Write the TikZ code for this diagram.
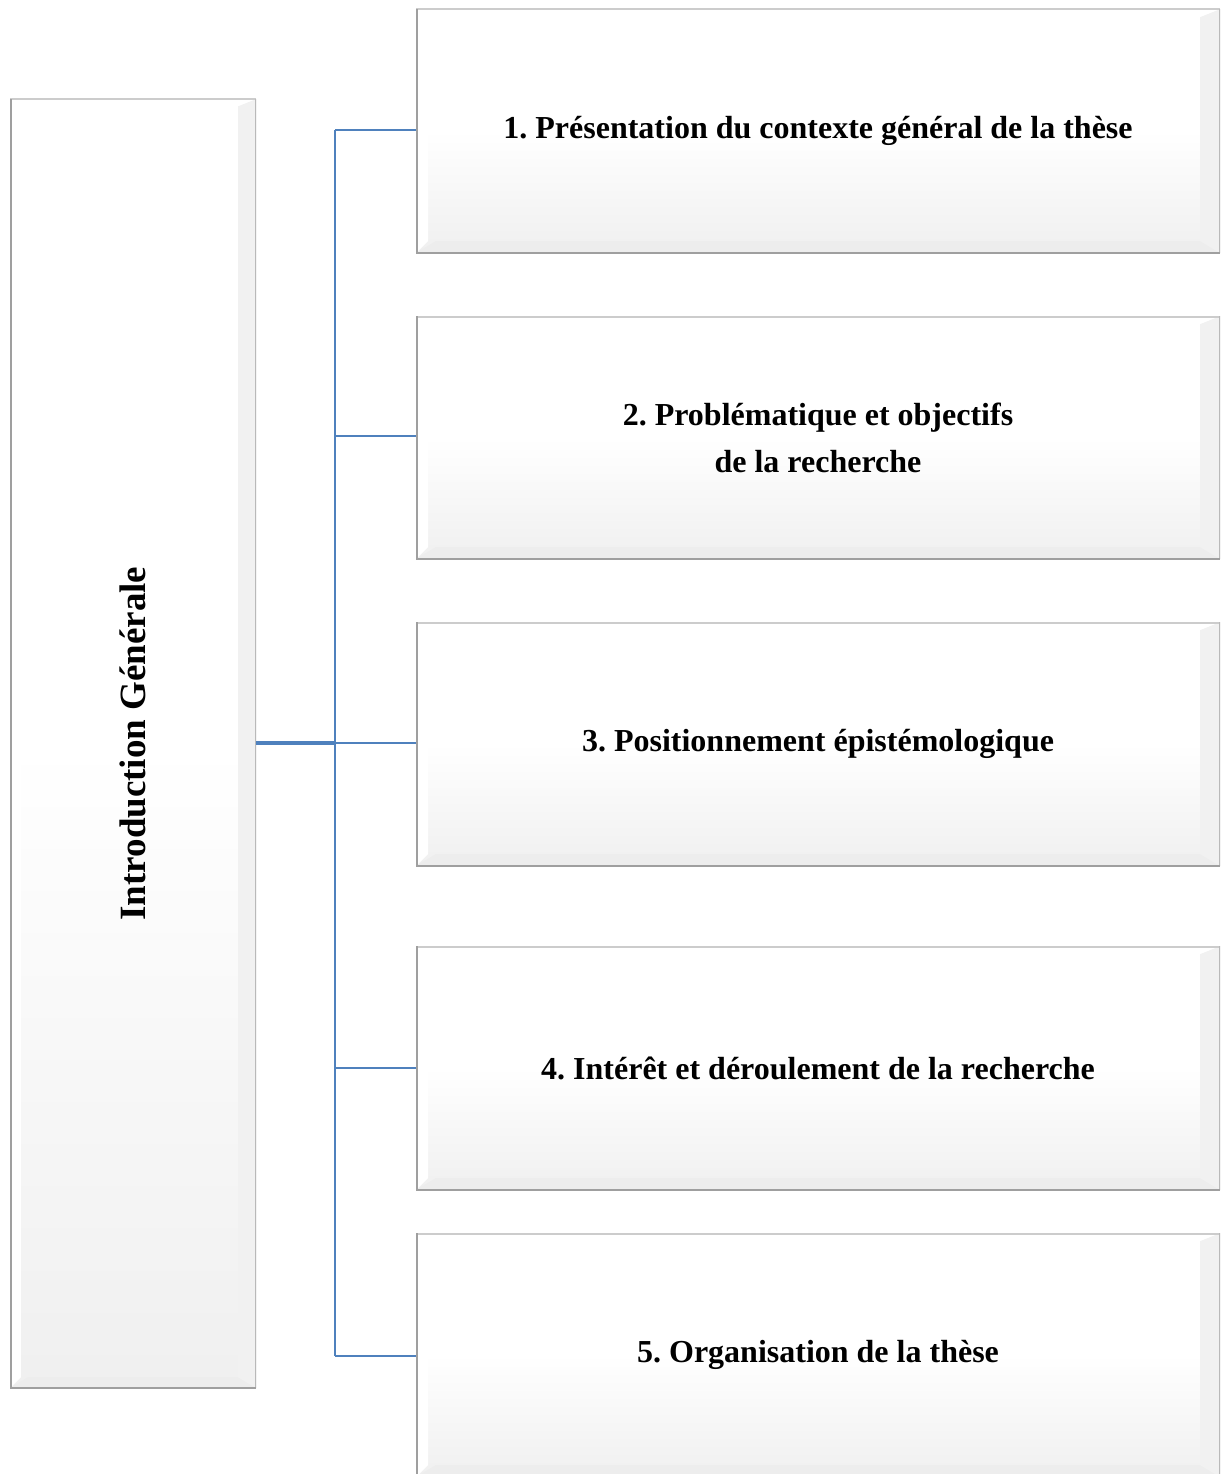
\documentclass[tikz,border=0pt]{standalone}
\usepackage{fontspec}
\setmainfont{Liberation Serif}
\frenchspacing
\usetikzlibrary{calc}
\definecolor{linkblue}{RGB}{79,129,189}
\tikzset{
  bevel/.store in=\bevelw, bevel=20pt,
  panel/.style={rectangle, inner sep=0pt, align=center,
    font=\fontsize{32}{47}\selectfont\bfseries,
    top color=white, bottom color=gray!12, middle color=white,
    path picture={
      \coordinate (nw) at (path picture bounding box.north west);
      \coordinate (ne) at (path picture bounding box.north east);
      \coordinate (sw) at (path picture bounding box.south west);
      \coordinate (se) at (path picture bounding box.south east);
      % bottom bevel
      \fill[gray!14] (sw) -- (se) -- ($(se)+(-\bevelw,\bevelw*0.6)$) -- ($(sw)+(\bevelw,\bevelw*0.6)$) -- cycle;
      % right bevel
      \fill[gray!11] (se) -- (ne) -- ($(ne)+(-\bevelw,-\bevelw*0.4)$) -- ($(se)+(-\bevelw,\bevelw*0.6)$) -- cycle;
      % left bevel
      \fill[white] (sw) -- (nw) -- ($(nw)+(\bevelw*0.6,-\bevelw*0.4)$) -- ($(sw)+(\bevelw*0.6,\bevelw*0.6)$) -- cycle;
      % top bevel
      \fill[white] (nw) -- (ne) -- ($(ne)+(-\bevelw,-\bevelw*0.4)$) -- ($(nw)+(\bevelw*0.6,-\bevelw*0.4)$) -- cycle;
      % outer edges
      \draw[gray!40, line width=3pt] (nw) -- (ne);
      \draw[gray!55, line width=3pt] (ne) -- (se);
      \draw[gray!75, line width=3pt] (sw) -- (se);
      \draw[gray!75, line width=3pt] (sw) -- (nw);
    }},
  branch/.style={draw=linkblue, line width=2pt},
  trunk/.style={draw=linkblue, line width=4pt}
}
\begin{document}
\begin{tikzpicture}[x=1pt, y=-1pt]
\useasboundingbox (0,0) rectangle (1220,1474);
% left title panel
\node[panel, bevel=18pt, font=\fontsize{37}{44}\selectfont\bfseries,
  minimum width=246pt, minimum height=1289pt] (intro) at (133,743.5)
  {\rotatebox{90}{Introduction Générale}};
% section panels
\node[panel, minimum width=804pt, minimum height=244pt] (s1) at (818,131)
  {1. Présentation du contexte général de la thèse};
\node[panel, minimum width=804pt, minimum height=243pt] (s2) at (818,437.5)
  {2. Problématique et objectifs\\de la recherche};
\node[panel, minimum width=804pt, minimum height=244pt] (s3) at (818,744)
  {3. Positionnement épistémologique};
\node[panel, minimum width=804pt, minimum height=244pt] (s4) at (818,1068)
  {4. Intérêt et déroulement de la recherche};
\node[panel, minimum width=804pt, minimum height=244pt] (s5) at (818,1355)
  {5. Organisation de la thèse};
% connectors
\coordinate (hub) at (335,743);
\coordinate (top) at (335,130);
\coordinate (bot) at (335,1356);
\draw[branch] (top) -- (bot);
\draw[trunk] (intro.east |- hub) -- (hub);
\draw[branch] (top) -- (s1.west |- top);
\draw[branch] (335,436) -- (s2.west |- 0,436);
\draw[branch] (hub) -- (s3.west |- hub);
\draw[branch] (335,1068) -- (s4.west |- 0,1068);
\draw[branch] (bot) -- (s5.west |- bot);
\end{tikzpicture}
\end{document}
